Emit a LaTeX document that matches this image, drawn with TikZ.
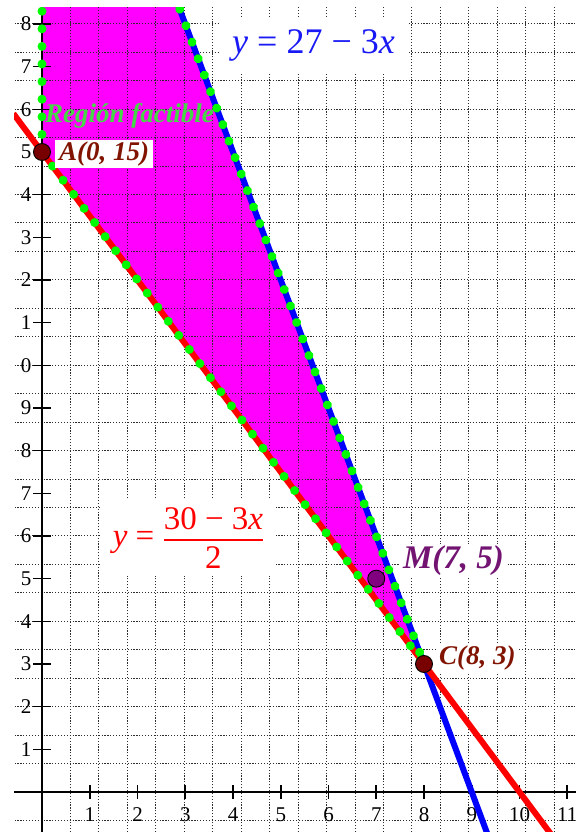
\documentclass[tikz,border=0pt]{standalone}
\usepackage{fontspec}
\setmainfont{Liberation Serif}
\usepackage{amsmath}
\usetikzlibrary{decorations.markings}
\definecolor{regionfill}{RGB}{255,0,255}
\definecolor{dotgreen}{RGB}{0,250,0}
\definecolor{labelgreen}{RGB}{70,215,70}
\definecolor{ptmaroon}{RGB}{120,0,0}
\definecolor{ptpurple}{RGB}{128,0,128}
\definecolor{txtmaroon}{RGB}{128,20,0}
\definecolor{txtpurple}{RGB}{115,20,115}
\definecolor{eqblue}{RGB}{25,25,245}
\definecolor{gridcol}{RGB}{45,45,45}
\tikzset{
  gridline/.style={gridcol, line width=0.9pt, dash pattern=on 1.2pt off 1.7pt},
  axisline/.style={black, line width=2.6pt},
  tickline/.style={black, line width=1.6pt},
  ticklabel/.style={inner sep=0pt, font=\fontsize{21}{25}\selectfont},
  bigline/.style={line width=6pt},
  greendots/.style={decoration={markings, mark=between positions 0 and 1 step 17.6pt with {\fill[dotgreen] (0,0) circle (4.5pt);}}, decorate},
  ptnode/.style={circle, draw=black, line width=0.9pt, minimum size=17pt, inner sep=0pt},
  ptlabel/.style={fill=white, inner xsep=3pt, inner ysep=2pt, font=\bfseries\itshape\fontsize{27}{32}\selectfont},
}
\begin{document}
\begin{tikzpicture}[x=47.75pt,y=42.667pt]
\useasboundingbox (-0.8796,-0.9375) rectangle (11.1832,18.5625);
\begin{scope}
\clip (-0.5864,-0.9375) rectangle (11.1832,18.375);
\coordinate (A) at (0,15);
\coordinate (C) at (8,3);
\coordinate (M) at (7,5);
\coordinate (Atop) at (0,19);
\coordinate (Btop) at ({8/3},19);
\coordinate (Bbot) at ({28/3},-1);
\coordinate (Rleft) at (-0.6,15.9);
\coordinate (Rbot) at ({32/3},-1);
% feasible region
\fill[regionfill] (Atop) -- (A) -- (C) -- (Btop) -- cycle;
% grid
\draw[gridline] (-1,-1) grid (12,19);
% axes
\draw[axisline] (-1,0) -- (11.3,0);
\draw[axisline] (0,-1) -- (0,19);
\foreach \i in {1,...,11} {
  \draw[tickline] (\i,0) ++(0,-7pt) -- ++(0,14pt);
  \node[ticklabel] (xl\i) at (\i,-0.527) {\i};
}
\foreach \j in {1,...,18} {
  \draw[tickline] (0,\j) ++(-9pt,0) -- ++(18pt,0);
  \pgfmathtruncatemacro\dig{mod(\j,10)}
  \node[ticklabel, anchor=east] (yl\j) at (-0.22,\j) {\dig};
}
% lines
\draw[bigline, blue] (Btop) -- (Bbot);
\draw[bigline, red] (Rleft) -- (Rbot);
% region boundary
\path[greendots] (A) -- (Atop);
\path[greendots] (A) -- (C) -- (Btop);
% points
\node[ptnode, fill=ptmaroon] (Apt) at (A) {};
\node[ptnode, fill=ptmaroon] (Cpt) at (C) {};
\node[ptnode, fill=ptpurple] (Mpt) at (M) {};
% labels
\node[anchor=base west, inner sep=0pt, text=labelgreen, font=\bfseries\itshape\fontsize{27}{32}\selectfont] (reg) at (0.063,15.70) {Región factible};
\node[ptlabel, text=txtmaroon, anchor=west, inner xsep=4pt] (Alab) at (0.272,14.95) {A(0, 15)};
\node[ptlabel, text=txtmaroon] (Clab) at (9.12,3.14) {C(8, 3)};
\node[ptlabel, text=txtpurple, font=\bfseries\itshape\fontsize{33}{40}\selectfont] (Mlab) at (8.618,5.426) {M(7, 5)};
\node[fill=white, text=eqblue, inner xsep=12pt, inner ysep=11pt, font=\fontsize{36}{42}\selectfont] (eqb) at (5.686,17.496) {\textit{y} = 27 − 3\textit{x}};
\node[fill=white, text=red, inner xsep=12pt, inner ysep=8pt, font=\fontsize{33}{40}\selectfont] (eqr) at (3.068,5.953) {$\text{\textit{y} = }\genfrac{}{}{1.8pt}{0}{\text{30 − 3\textit{x}}}{\text{2}}$};
\end{scope}
\end{tikzpicture}
\end{document}
